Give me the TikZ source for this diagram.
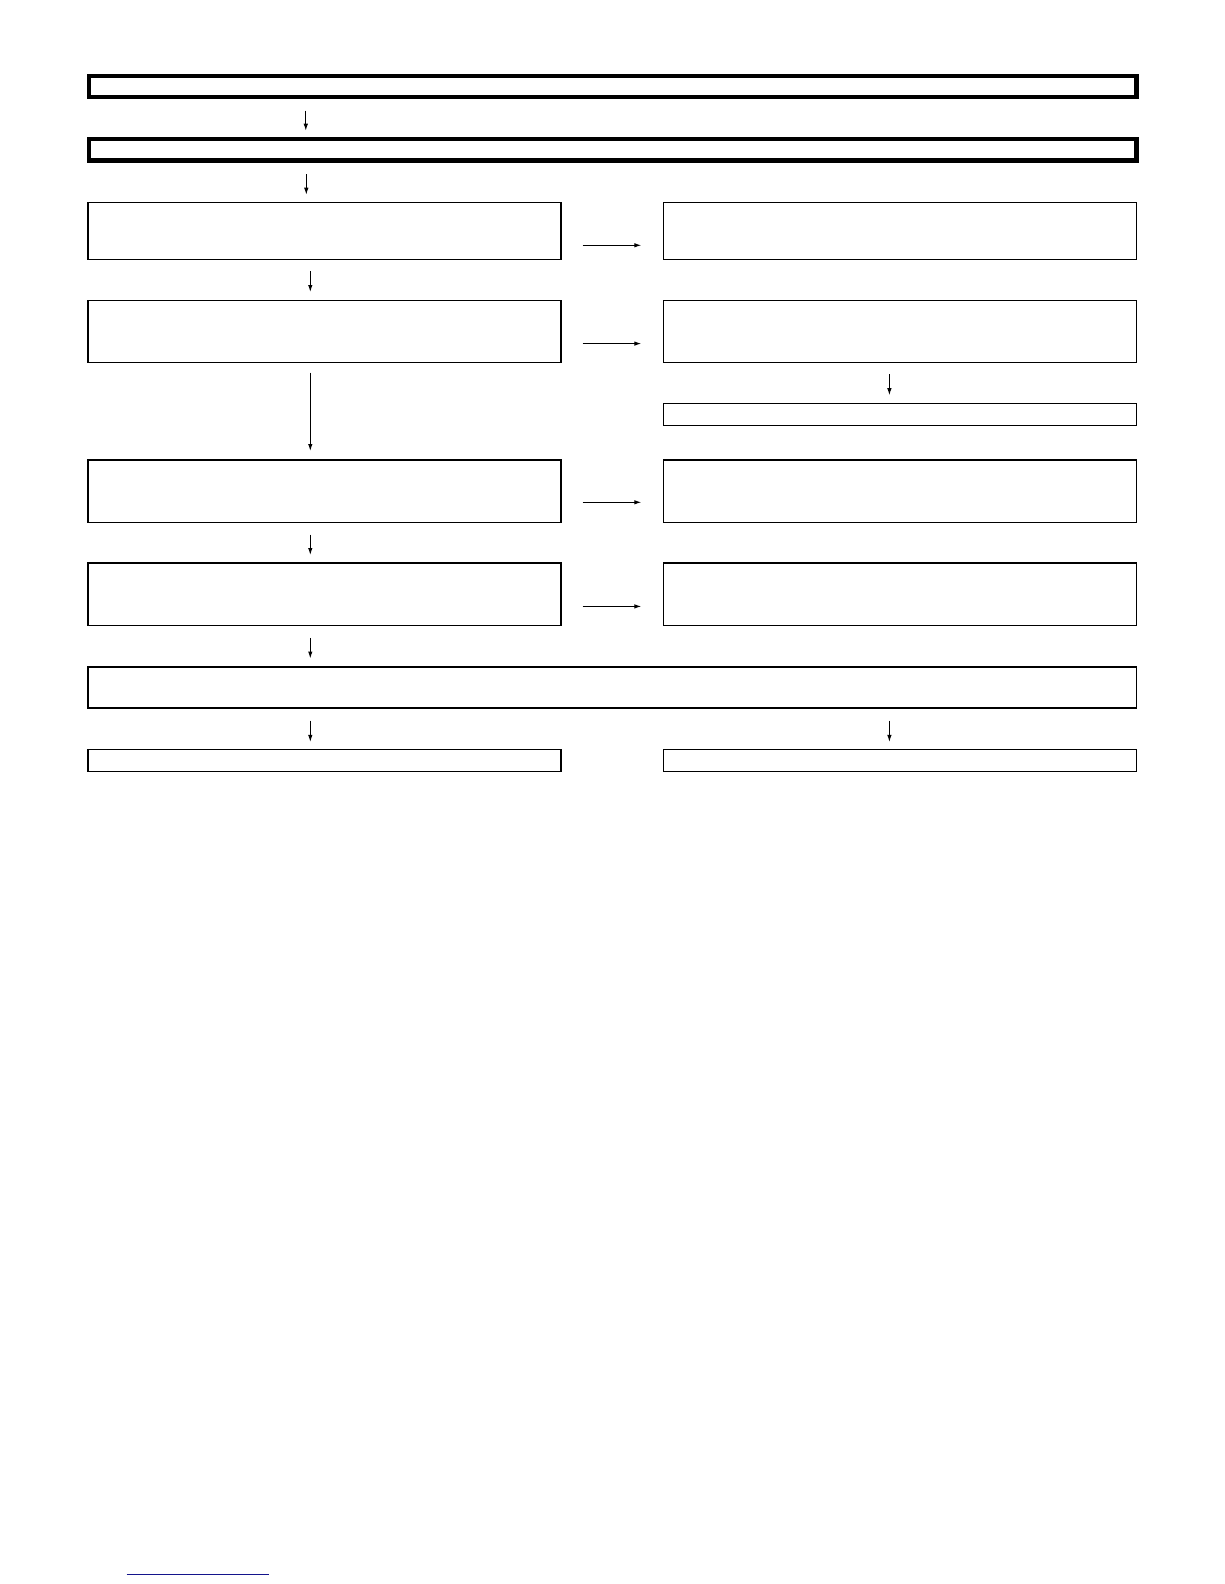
\documentclass[tikz,border=0pt]{standalone}
\usetikzlibrary{arrows.meta}
\begin{document}
\begin{tikzpicture}[x=1bp,y=-1bp,
  box/.style={draw=black,line width=1.2bp,inner sep=0pt,outer sep=0pt,anchor=north west,minimum width=473bp},
  widebox/.style={draw=black,line width=1.2bp,inner sep=0pt,outer sep=0pt,anchor=north west,minimum width=1048.5bp},
  thickbox/.style={draw=black,line width=4.5bp,inner sep=0pt,outer sep=0pt,anchor=north west,minimum width=1047.5bp},
  arr/.style={draw=black,line width=1bp,-{Latex[length=7bp,width=4.5bp]}}]
\useasboundingbox[fill=white] (0,0) rectangle (1224,1584);
% thick header boxes
\node[thickbox,minimum height=21bp] (h1) at (89,76.2) {};
\node[thickbox,minimum height=21.4bp] (h2) at (89,139) {};
% row 1
\node[box,minimum height=57bp] (l1) at (88,202.3) {};
\node[box,minimum height=57bp] (r1) at (663.5,202.3) {};
% row 2
\node[box,minimum height=62bp] (l2) at (88,300.5) {};
\node[box,minimum height=62bp] (r2) at (663.5,300.5) {};
\node[box,minimum height=22bp] (r2b) at (663.5,403.5) {};
% row 3
\node[box,minimum height=62.5bp] (l3) at (88,460) {};
\node[box,minimum height=62.5bp] (r3) at (663.5,460) {};
% row 4
\node[box,minimum height=62.5bp] (l4) at (88,563) {};
\node[box,minimum height=62.5bp] (r4) at (663.5,563) {};
% wide box
\node[widebox,minimum height=41bp] (w) at (88,667) {};
% bottom boxes
\node[box,minimum height=22bp] (bl) at (88,749.5) {};
\node[box,minimum height=22bp] (br) at (663.5,749.5) {};
% connector end points
\coordinate (a1s) at (305.8,110.7); \coordinate (a1e) at (305.8,130.7);
\coordinate (a2s) at (306.3,174);   \coordinate (a2e) at (306.3,194.7);
\coordinate (a3s) at (310.3,271);   \coordinate (a3e) at (310.3,292);
\coordinate (a4s) at (310.3,372.7); \coordinate (a4e) at (310.3,451);
\coordinate (a5s) at (310.3,534.7); \coordinate (a5e) at (310.3,555);
\coordinate (a6s) at (310.3,637.8); \coordinate (a6e) at (310.3,658.5);
\coordinate (a7s) at (310.3,720.6); \coordinate (a7e) at (310.3,741.9);
\coordinate (a8s) at (889.4,720.6); \coordinate (a8e) at (889.4,741.9);
\coordinate (a9s) at (889.4,374);   \coordinate (a9e) at (889.4,395.2);
\coordinate (h1s) at (582.7,245.3); \coordinate (h1e) at (641.3,245.3);
\coordinate (h2s) at (582.7,343.6); \coordinate (h2e) at (641.3,343.6);
\coordinate (h3s) at (582.7,502.3); \coordinate (h3e) at (641.3,502.3);
\coordinate (h4s) at (582.7,606.4); \coordinate (h4e) at (641.3,606.4);
\foreach \s/\e in {a1s/a1e,a2s/a2e,a3s/a3e,a4s/a4e,a5s/a5e,a6s/a6e,a7s/a7e,a8s/a8e,a9s/a9e,h1s/h1e,h2s/h2e,h3s/h3e,h4s/h4e}
  \draw[arr] (\s) -- (\e);
% blue rule at bottom
\coordinate (u1) at (126.7,1574.7); \coordinate (u2) at (269,1574.7);
\draw[draw={rgb,255:red,20;green,20;blue,140},line width=1.2bp] (u1) -- (u2);
\end{tikzpicture}
\end{document}
